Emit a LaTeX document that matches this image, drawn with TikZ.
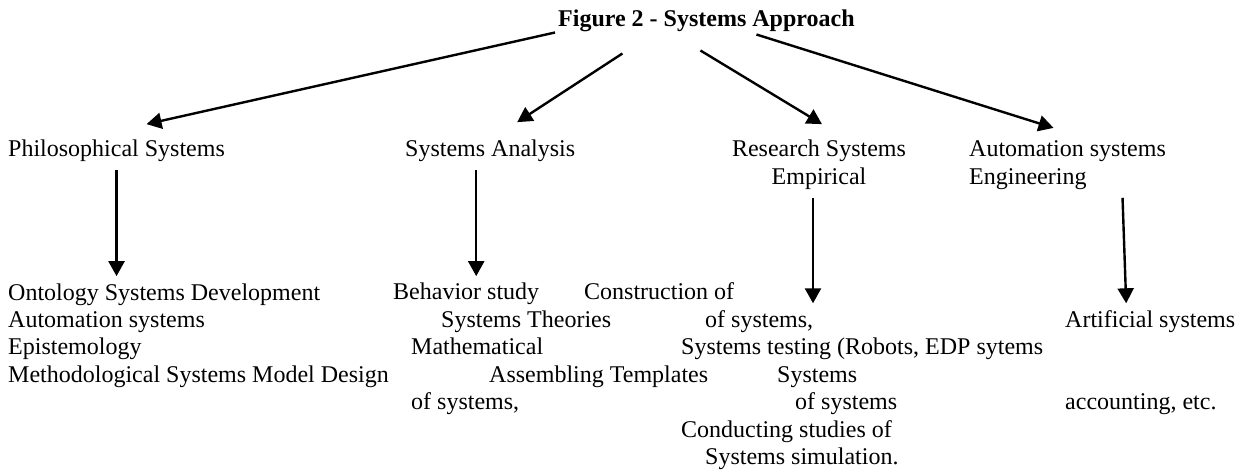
\documentclass[tikz,border=0pt]{standalone}
\usepackage{fontspec}
\setmainfont{Liberation Serif}
\usetikzlibrary{arrows.meta}

\begin{document}
\begin{tikzpicture}[x=1pt,y=-1pt,
		font=\fontsize{24}{27.4}\selectfont,
		txt/.style={inner xsep=0pt,inner ysep=0pt,anchor=base west},
		head/.style={txt,inner ysep=8pt,align=left},
		leaf/.style={txt,inner ysep=7pt,align=left},
		arr/.style={-{Triangle[length=15pt,width=16pt]},line width=2.4pt}]
		\useasboundingbox (0,0) rectangle (1237,470);
		\node [txt,font=\fontsize{24}{27.4}\selectfont\bfseries] (title) at (558,27) {Figure 2 - Systems Approach};
		\node [head] (phil) at (8,157) {Philosophical Systems};
		\node [head] (sa) at (405,157) {Systems Analysis};
		\node [head,anchor=base,align=center] (res) at (819,184.4) {Research Systems\\Empirical};
		\node [head] (aut) at (969,184.4) {Automation systems\\Engineering};
		\draw [arr] ([xshift=-3pt]title.south west) -- ([xshift=30pt,yshift=8pt]phil.north);
		\draw [arr] ([xshift=-84pt,yshift=-21pt]title.south) -- ([xshift=27pt,yshift=10pt]sa.north);
		\draw [arr] ([xshift=-6pt,yshift=-18pt]title.south) -- ([xshift=3pt,yshift=8pt]res.north);
		\draw [arr] ([xshift=50pt,yshift=-2pt]title.south) -- ([xshift=-14pt,yshift=5pt]aut.north);
		\node [leaf] (ont) at (8,382.2) {Ontology Systems Development\\Automation systems\\Epistemology\\Methodological Systems Model Design};
		\node [leaf] (beh) at (393,300) {Behavior study};
		\node [leaf] (con) at (584,300) {Construction of};
		\node [leaf] (the) at (441,327.4) {Systems Theories};
		\node [leaf] (ofs1) at (705,327.4) {of systems,};
		\node [leaf] (mat) at (411,354.8) {Mathematical};
		\node [leaf] (tst) at (681,354.8) {Systems testing (Robots, EDP sytems};
		\node [leaf] (asm) at (489,382.2) {Assembling Templates};
		\node [leaf] (sys) at (777,382.2) {Systems};
		\node [leaf] (ofs2) at (411,409.6) {of systems,};
		\node [leaf] (ofs3) at (795,409.6) {of systems};
		\node [leaf] (cnd) at (681,437) {Conducting studies of};
		\node [leaf] (sim) at (705,464.4) {Systems simulation.};
		\node [leaf] (art) at (1065,327.4) {Artificial systems};
		\node [leaf] (acc) at (1065,409.6) {accounting, etc.};
		\draw [arr] (phil.south) -- (phil.south |- ont.north);
		\draw [arr] ([xshift=-14pt]sa.south) -- ([xshift=-14pt]sa.south |- beh.north);
		\draw [arr] ([xshift=-6pt]res.south) -- ([xshift=-6pt]res.south |- ofs1.north);
		\draw [arr] ([xshift=55pt]aut.south) -- ([xshift=-24pt]art.north);
	\end{tikzpicture}
\end{document}
